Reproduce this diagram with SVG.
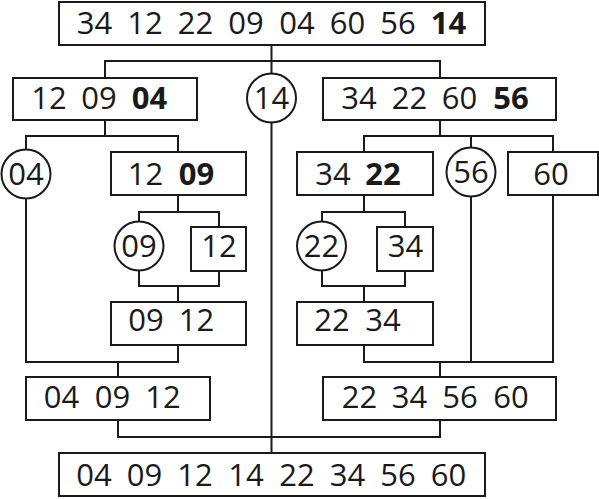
<svg xmlns="http://www.w3.org/2000/svg" width="599" height="499" viewBox="0 0 599 499">
<style>
rect,circle{fill:#fff;stroke:#1a1a1a;stroke-width:2}
#connectors path{fill:none;stroke:#1a1a1a;stroke-width:2}
text{font-family:"Open Sans","Noto Sans",sans-serif;font-size:31px;fill:#1a1a1a;text-anchor:middle}
.b{font-weight:bold}
</style>
<rect width="599" height="499" fill="#fff" style="stroke:none"/>
<g id="connectors">
<path d="M271.5 45V74M105 78V61H440V78M271.5 122V453"/>
<path d="M105 120V136M26 150V136H178V152"/>
<path d="M440 120V136M364 152V136H553V152M471 136V148"/>
<path d="M178 195V212M139 222V212H219V227M139 270V286H219V271M178 286V302"/>
<path d="M364 195V212M322 222V212H405V227M322 270V286H405V271M364 286V302"/>
<path d="M26 198V362H178V345M118 362V377"/>
<path d="M364 345V362H553V195M471 196V362M440 362V377"/>
<path d="M118 420V437H440V420"/>
</g>
<g id="n-top"><rect x="59" y="2" width="426" height="43"/>
<text y="33.5"><tspan x="94.5">34</tspan><tspan x="145">12</tspan><tspan x="195.5">22</tspan><tspan x="246">09</tspan><tspan x="297">04</tspan><tspan x="347.5">60</tspan><tspan x="398">56</tspan><tspan x="448.5" class="b">14</tspan></text></g>
<g id="n-left1"><rect x="13" y="78" width="184" height="42"/>
<text y="109"><tspan x="49">12</tspan><tspan x="99">09</tspan><tspan x="149.5" class="b">04</tspan></text></g>
<g id="n-p14"><circle cx="271.5" cy="98" r="24.5"/><text x="271.5" y="109">14</text></g>
<g id="n-right1"><rect x="323" y="78" width="233" height="42"/>
<text y="109"><tspan x="359">34</tspan><tspan x="409.5">22</tspan><tspan x="459.5">60</tspan><tspan x="511" class="b">56</tspan></text></g>
<g id="n-p04"><circle cx="26" cy="174" r="24.5"/><text x="26" y="185">04</text></g>
<g id="n-1209"><rect x="111" y="152" width="135" height="43"/>
<text y="185"><tspan x="145.5">12</tspan><tspan x="196.5" class="b">09</tspan></text></g>
<g id="n-3422"><rect x="297" y="152" width="136" height="43"/>
<text y="185"><tspan x="333">34</tspan><tspan x="383" class="b">22</tspan></text></g>
<g id="n-p56"><circle cx="471" cy="172" r="24.5"/><text x="471" y="183">56</text></g>
<g id="n-60"><rect x="508" y="152" width="90" height="43"/><text x="551" y="185">60</text></g>
<g id="n-p09"><circle cx="139" cy="246" r="24.5"/><text x="139" y="257">09</text></g>
<g id="n-12"><rect x="191" y="227" width="55" height="44"/><text x="219" y="257">12</text></g>
<g id="n-p22"><circle cx="321.5" cy="246" r="24.5"/><text x="321.5" y="257">22</text></g>
<g id="n-34"><rect x="377" y="227" width="56" height="44"/><text x="405.5" y="257">34</text></g>
<g id="n-0912"><rect x="111" y="302" width="135" height="43"/>
<text y="331"><tspan x="146">09</tspan><tspan x="196.5">12</tspan></text></g>
<g id="n-2234"><rect x="297" y="302" width="136" height="43"/>
<text y="331"><tspan x="332">22</tspan><tspan x="383">34</tspan></text></g>
<g id="n-040912"><rect x="26" y="377" width="184" height="43"/>
<text y="407.5"><tspan x="61.5">04</tspan><tspan x="112.5">09</tspan><tspan x="163">12</tspan></text></g>
<g id="n-22345660"><rect x="323" y="377" width="233" height="43"/>
<text y="407.5"><tspan x="359.5">22</tspan><tspan x="409.5">34</tspan><tspan x="460">56</tspan><tspan x="511">60</tspan></text></g>
<g id="n-bottom"><rect x="59" y="453" width="426" height="43"/>
<text y="485.5"><tspan x="94">04</tspan><tspan x="144.5">09</tspan><tspan x="195">12</tspan><tspan x="246">14</tspan><tspan x="297">22</tspan><tspan x="347.5">34</tspan><tspan x="398">56</tspan><tspan x="448.5">60</tspan></text></g>
</svg>
